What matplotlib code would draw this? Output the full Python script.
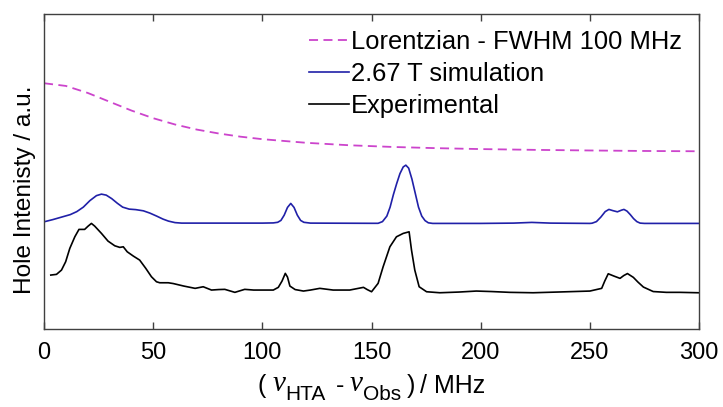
import numpy as np
import matplotlib.pyplot as plt
from matplotlib.transforms import IdentityTransform

plt.rcParams['font.family'] = ['Liberation Sans', 'DejaVu Sans']

# Lorentzian (FWHM 100 MHz)
lor_f = [0, 10, 20, 30, 40, 50, 60, 70, 80, 90, 100, 120, 140, 160, 180, 200, 225, 250, 275, 300]
lor_y = [246, 243.3, 236.3, 227.5, 218.7, 211, 204.7, 199.6, 195.7, 192.5, 190,
         186.4, 183.9, 182.2, 181, 180.1, 179.3, 178.7, 178.2, 177.9]

# 2.67 T simulation
sim_f = [0, 4, 8, 12, 15, 18, 21, 24, 26.3, 28.5, 31, 33.5, 36, 39, 42, 45.5, 48.5,
         51.6, 54.5, 57, 60, 63, 100, 105,
         107, 108.5, 110, 111.5, 113, 114.5, 116, 117.5, 119, 122, 150, 153,
         155, 157, 158.5, 160, 161.5, 163, 164.5, 165.7, 167, 168.5, 170, 171.5,
         173, 174.5, 176, 178, 200, 215, 223.4, 232, 250,
         251, 253, 255, 257, 258.7, 260.5, 262.6, 264.5, 265.6, 267, 268.5, 270,
         271.5, 273, 275, 300]
sim_y = [107.3, 109.5, 112, 114.5, 117.5, 122, 128.5, 133.5, 135, 134, 130.5, 126,
         122, 120, 119.5, 118.3, 116, 113, 110, 108, 106.5, 106, 106, 106.2,
         106.8, 108.7, 114, 121.7, 125.7, 121.7, 114, 108.7, 106.8, 106, 105.8, 105.8,
         107.5, 113, 122, 134.5, 145.5, 155.5, 162.2, 164, 161, 150, 136, 122,
         113, 108.5, 106.3, 105.7, 105.7, 106, 106.7, 106, 105.7,
         105.9, 107.5, 112, 117.5, 119.7, 118.5, 117.3, 119, 119.7, 118, 114.5, 110.5,
         107.5, 106, 105.7, 105.7]

# Experimental
exp_f = [3.1, 5.7, 8, 9.9, 11.8, 14.1, 16, 18.6, 20.2, 21.7, 23.2, 26.3, 29.3, 32.4,
         34.7, 36.3, 38.1, 40.9, 43.8, 46.6, 49.2, 51.5, 53, 56.9, 59.2, 64, 69.2,
         72.9, 76.7, 80, 82.8, 87.4, 91.9, 96, 100, 105, 107.3, 109, 110.5, 111.5,
         112.6, 115, 118.8, 122, 126.3, 132.4, 140, 146.3, 148, 150, 153, 155.3,
         158.4, 161.4, 164.5, 167.2, 168.3, 169.8, 171.8, 175.2, 181.3, 190, 198,
         205, 213.3, 224, 235, 250, 253, 255.4, 256.8, 258.4, 261, 263.8, 265.5,
         267.2, 269.9, 272, 274.5, 277, 279, 285, 291.2, 299.6]
exp_y = [54, 54.7, 59, 67.3, 80.7, 92.3, 99.7, 99.7, 103, 105.7, 103, 95.7, 88, 83.3,
         81.7, 82.3, 77.3, 73, 69, 60.7, 52.3, 47.3, 46.3, 46.3, 45.5, 43, 40.7,
         42.3, 39, 39.5, 39.7, 36.7, 39.7, 39, 39, 39, 41.7, 48, 55.7, 52,
         43, 39.5, 38, 39, 40.7, 39, 39, 41.7, 39.5, 37.3, 45.7, 62.3,
         82.3, 92.3, 95.7, 97.3, 79, 59, 42.3, 37.3, 36.3, 37, 38,
         37.5, 36.7, 36.3, 37, 38, 39.5, 40.7, 48, 55.3, 53, 50.7, 53.5,
         55.5, 51.7, 47, 42, 39.5, 37.5, 36.7, 36.7, 36.3]

fig = plt.figure(figsize=(7.23, 4.07), dpi=100)
ax = fig.add_axes([0.0609, 0.1916, 0.906, 0.775])

ax.plot(lor_f, lor_y, '--', color='#cc44cc', lw=1.3, dashes=(5, 3),
        label='Lorentzian - FWHM 100 MHz')
ax.plot(sim_f, sim_y, color='#2020a8', lw=1.2, label='2.67 T simulation')
ax.plot(exp_f, exp_y, color='black', lw=1.2, label='Experimental')

ax.set_xlim(0, 300)
ax.set_ylim(0, 315.7)
ax.set_xticks(np.arange(0, 301, 50))
ax.set_yticks([])
ax.tick_params(axis='x', direction='in', top=True, length=5, width=1,
               color='#404040', labelsize=17, pad=9)
for s in ax.spines.values():
    s.set_color('#404040')
    s.set_linewidth(1)

ax.set_ylabel('Hole Intenisty / a.u.', fontsize=17.6)
ax.yaxis.set_label_coords(-0.013, 0.44)

ax.legend(loc='upper right', frameon=False, fontsize=18.4, handlelength=1.57,
          handletextpad=0.07, labelspacing=0.31, borderaxespad=0,
          bbox_to_anchor=(0.989, 0.981))

# x label built from pieces: large italic nu, full-size lowered subscripts
pieces = [  # text, size, family, style, dy(px), gap after(px)
    ('(', 18, 'Liberation Sans', 'normal', 0, 6),
    ('\u03bd', 21, 'Liberation Serif', 'italic', 2, 0),
    ('HTA', 15, 'Liberation Sans', 'normal', -7, 11),
    ('-', 18, 'Liberation Sans', 'normal', 0, 5),
    ('\u03bd', 21, 'Liberation Serif', 'italic', 2, 0),
    ('Obs', 15, 'Liberation Sans', 'normal', -7, 6),
    (')', 18, 'Liberation Sans', 'normal', 0, 5),
    ('/', 18, 'Liberation Sans', 'normal', 0, 7),
    ('MHz', 18, 'Liberation Sans', 'normal', 0, 0),
]
renderer = fig.canvas.get_renderer()
base = 14
x = 0
texts = []
for s, size, fam, style, dy, gap in pieces:
    t = fig.text(x, base + dy, s, fontsize=size, family=fam, style=style,
                 ha='left', va='baseline', transform=IdentityTransform())
    x += t.get_window_extent(renderer).width + gap
    texts.append(t)
shift = 371.5 - x / 2
for t in texts:
    px, py = t.get_position()
    t.set_position((px + shift, py))

fig.savefig('out.png', dpi=100)
